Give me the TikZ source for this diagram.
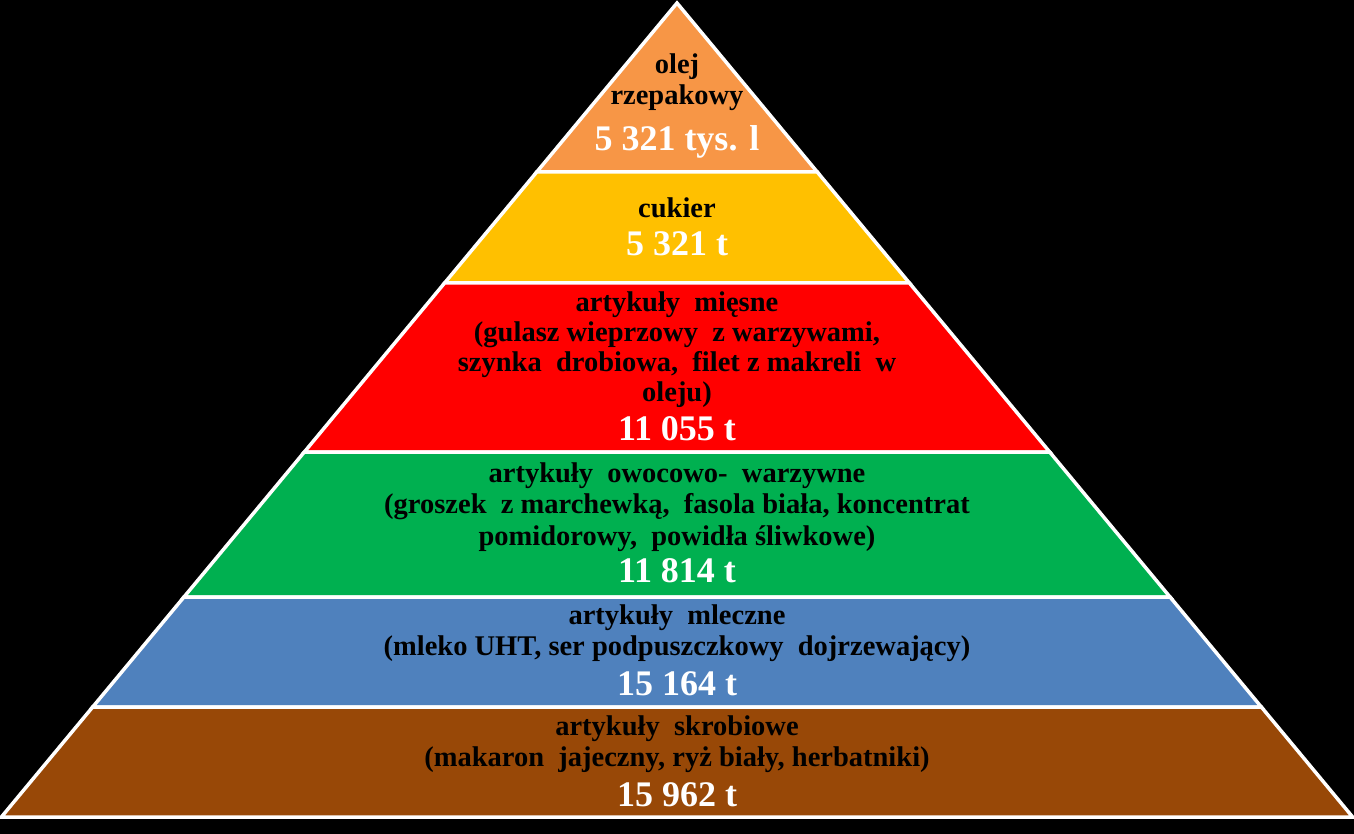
\documentclass[tikz,border=0pt]{standalone}
\usepackage{fontspec}
\setmainfont{Liberation Serif}
\definecolor{olejcol}{HTML}{F79646}
\definecolor{cukiercol}{HTML}{FFC000}
\definecolor{miesocol}{HTML}{FF0000}
\definecolor{owoccol}{HTML}{00B050}
\definecolor{mlekocol}{HTML}{4F81BD}
\definecolor{skrobcol}{HTML}{984807}

\begin{document}
\begin{tikzpicture}[x=1pt,y=-1pt,
	layer/.style={draw=white,line width=3.5pt,line join=miter},
	label node/.style={font=\bfseries\fontsize{28.5}{31.5}\selectfont,align=center,inner sep=0pt},
	value node/.style={font=\bfseries\fontsize{36}{40}\selectfont,text=white,inner sep=0pt,anchor=base}]
	\fill[black] (0,0) rectangle (1354,834);
	\useasboundingbox (0,0) rectangle (1354,834);
	% top of the pyramid
	\filldraw[layer,fill=olejcol] (677,3) -- ({677+0.83*169},172) -- ({677-0.83*169},172) -- cycle;
	% the other layers
	\foreach \ytop/\ybot/\col in {172/283/cukiercol,283/452/miesocol,452/597/owoccol,597/707/mlekocol,707/817/skrobcol}
		\filldraw[layer,fill=\col] ({677-0.83*(\ytop-3)},\ytop) -- ({677+0.83*(\ytop-3)},\ytop)
			-- ({677+0.83*(\ybot-3)},\ybot) -- ({677-0.83*(\ybot-3)},\ybot) -- cycle;
	\node[label node] (olej) at (677,82) {olej\\rzepakowy};
	\node[value node] (olejval) at (677,150.5) {5 321 tys. l};
	\node[label node] (cukier) at (677,208) {cukier};
	\node[value node] (cukierval) at (677,255.5) {5 321 t};
	\node[label node,font=\bfseries\fontsize{28.5}{30}\selectfont] (mieso) at (677,350) {artykuły~ mięsne\\(gulasz wieprzowy~ z warzywami,\\szynka~ drobiowa,~ filet z makreli~ w\\oleju)};
	\node[value node] (miesoval) at (677,440.5) {11 055 t};
	\node[label node] (owoce) at (677,507) {artykuły~ owocowo-~ warzywne\\(groszek~ z marchewką,~ fasola biała, koncentrat\\pomidorowy,~ powidła śliwkowe)};
	\node[value node] (owoceval) at (677,582.5) {11 814 t};
	\node[label node] (mleko) at (677,633) {artykuły~ mleczne\\(mleko UHT, ser podpuszczkowy~ dojrzewający)};
	\node[value node] (mlekoval) at (677,695.5) {15 164 t};
	\node[label node] (skrobia) at (677,744) {artykuły~ skrobiowe\\(makaron~ jajeczny, ryż biały, herbatniki)};
	\node[value node] (skrobiaval) at (677,806.5) {15 962 t};
\end{tikzpicture}
\end{document}
